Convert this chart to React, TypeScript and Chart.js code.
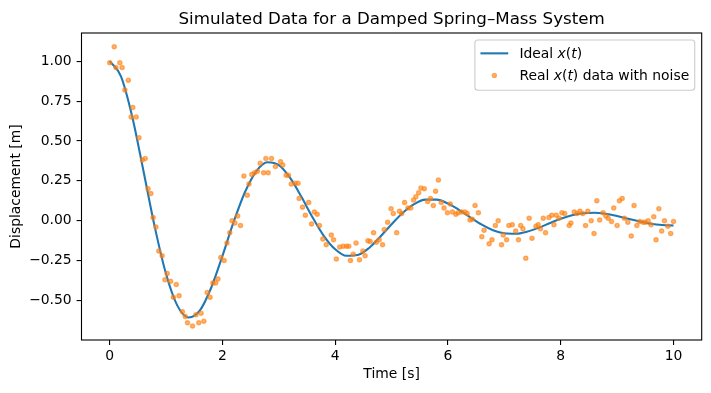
import React, { useEffect, useRef } from "react";
import { Chart, registerables } from "chart.js";

Chart.register(...registerables);

const TITLE = "Simulated Data for a Damped Spring\u2013Mass System";
const X_LABEL = "Time [s]";
const Y_LABEL = "Displacement [m]";

const xTickValues = [0, 2, 4, 6, 8, 10];
const xTickLabels = ["0", "2", "4", "6", "8", "10"];
const yTickValues = [-0.5, -0.25, 0, 0.25, 0.5, 0.75, 1.0];
const yTickLabels = ["\u22120.50", "\u22120.25", "0.00", "0.25", "0.50", "0.75", "1.00"];

const idealTime = [
  0, 0.2, 0.4, 0.6, 0.8, 1.0, 1.2, 1.4, 1.6, 1.8, 2.0, 2.2, 2.4, 2.6, 2.8, 3.0, 3.2, 3.4, 3.6, 3.8,
  4.0, 4.2, 4.4, 4.6, 4.8, 5.0, 5.2, 5.4, 5.6, 5.8, 6.0, 6.2, 6.4, 6.6, 6.8, 7.0, 7.2, 7.4, 7.6, 7.8,
  8.0, 8.2, 8.4, 8.6, 8.8, 9.0, 9.2, 9.4, 9.6, 9.8, 10.0,
];
const idealDisp = [
  1.0, 0.905, 0.652, 0.31, -0.04, -0.334, -0.532, -0.606, -0.562, -0.42, -0.22, -0.006, 0.18,
  0.31, 0.366, 0.348, 0.268, 0.15, 0.02, -0.096, -0.179, -0.22, -0.215, -0.171, -0.1, -0.022,
  0.05, 0.104, 0.132, 0.132, 0.108, 0.067, 0.02, -0.025, -0.06, -0.079, -0.082, -0.069, -0.045,
  -0.016, 0.012, 0.034, 0.047, 0.05, 0.043, 0.03, 0.012, -0.005, -0.019, -0.027, -0.03,
];

const noisyTime = [
  0.0, 0.08, 0.11, 0.18, 0.22, 0.27, 0.33, 0.38, 0.41, 0.47, 0.52, 0.58, 0.63, 0.68, 0.73, 0.77,
  0.82, 0.87, 0.93, 0.98, 1.02, 1.08, 1.13, 1.18, 1.23, 1.29, 1.34, 1.38, 1.47, 1.53, 1.58, 1.62,
  1.67, 1.73, 1.78, 1.83, 1.88, 1.92, 1.97, 2.03, 2.08, 2.13, 2.17, 2.22, 2.27, 2.32, 2.38, 2.44,
  2.47, 2.52, 2.57, 2.62, 2.67, 2.73, 2.77, 2.81, 2.87, 2.94, 3.03, 3.07, 3.13, 3.17, 3.22, 3.29,
  3.34, 3.36, 3.42, 3.47, 3.53, 3.58, 3.63, 3.68, 3.72, 3.78, 3.84, 3.93, 3.97, 4.02, 4.08, 4.14,
  4.2, 4.24, 4.27, 4.32, 4.37, 4.43, 4.49, 4.53, 4.58, 4.62, 4.68, 4.73, 4.78, 4.84, 4.87, 4.93,
  4.99, 5.03, 5.09, 5.14, 5.18, 5.23, 5.29, 5.34, 5.39, 5.43, 5.48, 5.52, 5.58, 5.64, 5.69, 5.74,
  5.78, 5.83, 5.88, 5.93, 5.99, 6.04, 6.08, 6.14, 6.18, 6.24, 6.3, 6.34, 6.39, 6.43, 6.48, 6.54,
  6.6, 6.64, 6.73, 6.78, 6.84, 6.89, 6.95, 6.98, 7.04, 7.08, 7.14, 7.2, 7.25, 7.29, 7.33, 7.38,
  7.44, 7.49, 7.56, 7.6, 7.64, 7.69, 7.73, 7.79, 7.84, 7.88, 7.92, 7.97, 8.02, 8.07, 8.15, 8.18,
  8.24, 8.29, 8.34, 8.39, 8.44, 8.48, 8.54, 8.59, 8.64, 8.69, 8.75, 8.8, 8.84, 8.9, 8.94, 9.0,
  9.04, 9.09, 9.13, 9.19, 9.25, 9.3, 9.35, 9.4, 9.46, 9.5, 9.55, 9.6, 9.65, 9.69, 9.74, 9.79,
  9.84, 9.9, 9.95, 10.0,
];
const noisyDisp = [
  0.99, 1.09, 0.96, 0.99, 0.96, 0.82, 0.88, 0.65, 0.71, 0.65, 0.52, 0.38, 0.39, 0.2, 0.17, 0.02,
  -0.04, -0.19, -0.22, -0.37, -0.33, -0.38, -0.48, -0.4, -0.47, -0.57, -0.6, -0.64, -0.66, -0.59, -0.64, -0.58,
  -0.63, -0.45, -0.48, -0.39, -0.39, -0.365, -0.23, -0.25, -0.14, -0.075, 0.0, -0.015, 0.03, -0.03, 0.28, 0.16,
  0.23, 0.29, 0.3, 0.31, 0.36, 0.3, 0.39, 0.3, 0.39, 0.34, 0.37, 0.35, 0.285, 0.285, 0.23, 0.235,
  0.235, 0.14, 0.085, 0.035, 0.115, -0.02, 0.055, 0.04, -0.03, -0.115, -0.15, -0.09, -0.12, -0.24, -0.165, -0.16,
  -0.16, -0.16, -0.25, -0.21, -0.14, -0.245, -0.19, -0.22, -0.125, -0.13, -0.075, -0.135, -0.12, -0.15, -0.055, -0.01,
  0.075, 0.045, -0.075, 0.06, 0.045, 0.115, 0.08, 0.08, 0.13, 0.15, 0.175, 0.205, 0.2, 0.12, 0.14, 0.095,
  0.185, 0.255, 0.115, 0.08, 0.05, 0.105, 0.055, 0.04, 0.05, 0.055, 0.055, 0.045, 0.005, 0.01, 0.095, 0.05,
  -0.1, -0.06, -0.145, -0.12, -0.03, 0.0, -0.15, -0.09, -0.12, -0.03, -0.025, -0.065, -0.12, -0.03, -0.05, -0.235,
  0.015, -0.11, -0.035, -0.025, -0.05, 0.015, -0.075, 0.02, 0.035, -0.025, 0.035, 0.015, 0.05, 0.045, -0.03, -0.015,
  0.055, 0.045, 0.06, 0.045, -0.03, 0.06, 0.0, -0.08, 0.125, 0.005, 0.05, 0.03, 0.015, -0.005, 0.08, -0.03,
  0.125, 0.14, 0.015, -0.01, -0.095, 0.095, -0.03, -0.005, -0.01, -0.01, 0.0, -0.025, 0.025, -0.12, 0.075, -0.065,
  0.0, -0.035, -0.08, -0.005,
];

const LINE_COLOR = "#1f77b4";
const DOT_COLOR = "rgba(255,127,14,0.6)";
const FONT = "'DejaVu Sans', 'Liberation Sans', sans-serif";
const FS = 13.9;

type Seg = [string, boolean];

function drawSegs(ctx: CanvasRenderingContext2D, segs: Seg[], x: number, y: number) {
  let cx = x;
  ctx.textAlign = "left";
  ctx.textBaseline = "alphabetic";
  for (const [txt, it] of segs) {
    ctx.font = `${it ? "italic " : ""}${FS}px ${FONT}`;
    ctx.fillText(txt, cx, y);
    cx += ctx.measureText(txt).width;
  }
  return cx - x;
}
function segsWidth(ctx: CanvasRenderingContext2D, segs: Seg[]) {
  let w = 0;
  for (const [txt, it] of segs) {
    ctx.font = `${it ? "italic " : ""}${FS}px ${FONT}`;
    w += ctx.measureText(txt).width;
  }
  return w;
}

const legendRow1: Seg[] = [["Ideal ", false], ["x", true], ["(", false], ["t", true], [")", false]];
const legendRow2: Seg[] = [
  ["Real ", false],
  ["x", true],
  ["(", false],
  ["t", true],
  [")", false],
  [" data with noise", false],
];

const decor = {
  id: "mplDecor",
  afterDraw(chart: any) {
    const { ctx, chartArea: a } = chart;
    ctx.save();
    ctx.strokeStyle = "#000";
    ctx.lineWidth = 1.1;
    ctx.strokeRect(a.left, a.top, a.right - a.left, a.bottom - a.top);
    ctx.fillStyle = "#000";
    ctx.font = `16.7px ${FONT}`;
    ctx.textAlign = "center";
    ctx.textBaseline = "alphabetic";
    ctx.fillText(TITLE, (a.left + a.right) / 2, a.top - 8.6);
    const pad = 0.4 * FS;
    const handleLen = 2 * FS;
    const textPad = 0.8 * FS;
    const tw = Math.max(segsWidth(ctx, legendRow1), segsWidth(ctx, legendRow2));
    const w = pad * 2 + handleLen + textPad + tw;
    const h = 50.3;
    const bx = a.right - 0.5 * FS - w;
    const by = a.top + 0.5 * FS;
    const r = 3;
    ctx.beginPath();
    ctx.moveTo(bx + r, by);
    ctx.lineTo(bx + w - r, by);
    ctx.arcTo(bx + w, by, bx + w, by + r, r);
    ctx.lineTo(bx + w, by + h - r);
    ctx.arcTo(bx + w, by + h, bx + w - r, by + h, r);
    ctx.lineTo(bx + r, by + h);
    ctx.arcTo(bx, by + h, bx, by + h - r, r);
    ctx.lineTo(bx, by + r);
    ctx.arcTo(bx, by, bx + r, by, r);
    ctx.closePath();
    ctx.fillStyle = "rgba(255,255,255,0.8)";
    ctx.fill();
    ctx.strokeStyle = "#cccccc";
    ctx.lineWidth = 1.1;
    ctx.stroke();
    const hx = bx + pad;
    const row1 = by + 13.4;
    const row2 = by + 35.6;
    ctx.strokeStyle = LINE_COLOR;
    ctx.lineWidth = 2.08;
    ctx.beginPath();
    ctx.moveTo(hx, row1);
    ctx.lineTo(hx + handleLen, row1);
    ctx.stroke();
    ctx.fillStyle = DOT_COLOR;
    ctx.strokeStyle = DOT_COLOR;
    ctx.lineWidth = 1.3;
    ctx.beginPath();
    ctx.arc(hx + handleLen / 2, row2, 2.1, 0, Math.PI * 2);
    ctx.fill();
    ctx.stroke();
    ctx.fillStyle = "#000";
    const tx = hx + handleLen + textPad;
    drawSegs(ctx, legendRow1, tx, row1 + 4.6);
    drawSegs(ctx, legendRow2, tx, row2 + 4.6);
    ctx.restore();
  },
};

export default function App() {
  const ref = useRef<HTMLCanvasElement | null>(null);
  useEffect(() => {
    document.body.style.margin = "0";
    const canvas = ref.current;
    if (!canvas) return;
    const tickFont = { family: FONT, size: FS };
    const chart = new Chart(canvas, {
      type: "scatter",
      data: {
        datasets: [
          {
            label: "Real x(t) data with noise",
            data: noisyTime.map((t, i) => ({ x: t, y: noisyDisp[i] })),
            backgroundColor: DOT_COLOR,
            borderColor: DOT_COLOR,
            borderWidth: 1.3,
            pointRadius: 2.1,
            showLine: false,
            order: 0,
          },
          {
            label: "Ideal x(t)",
            data: idealTime.map((t, i) => ({ x: t, y: idealDisp[i] })),
            borderColor: LINE_COLOR,
            backgroundColor: LINE_COLOR,
            borderWidth: 2.08,
            pointRadius: 0,
            showLine: true,
            cubicInterpolationMode: "monotone",
            order: 1,
          } as any,
        ],
      },
      options: {
        animation: false,
        responsive: false,
        devicePixelRatio: 1,
        layout: { padding: { top: 33, right: 9.3, left: 0, bottom: 0 } },
        plugins: {
          legend: { display: false },
          title: { display: false },
          tooltip: { enabled: false },
        },
        scales: {
          x: {
            type: "linear",
            min: -0.5,
            max: 10.5,
            afterBuildTicks: (s: any) => {
              s.ticks = xTickValues.map((v) => ({ value: v }));
            },
            afterFit: (s: any) => {
              s.height = 53;
            },
            ticks: {
              autoSkip: false,
              maxRotation: 0,
              padding: 3.5,
              color: "#000",
              font: tickFont,
              callback: (_v: any, i: number) => xTickLabels[i],
            },
            grid: {
              drawOnChartArea: false,
              drawTicks: true,
              tickLength: 4.9,
              color: "#000",
              lineWidth: 1.1,
            },
            border: { display: false },
            title: {
              display: true,
              text: X_LABEL,
              color: "#000",
              font: { family: FONT, size: FS },
              padding: { top: 0, bottom: 10.5 },
            },
          },
          y: {
            type: "linear",
            min: -0.7475,
            max: 1.1765,
            afterBuildTicks: (s: any) => {
              s.ticks = yTickValues.map((v) => ({ value: v }));
            },
            afterFit: (s: any) => {
              s.width = 81.5;
            },
            ticks: {
              autoSkip: false,
              padding: 4.9,
              color: "#000",
              font: tickFont,
              callback: (_v: any, i: number) => yTickLabels[i],
            },
            grid: {
              drawOnChartArea: false,
              drawTicks: true,
              tickLength: 4.9,
              color: "#000",
              lineWidth: 1.1,
            },
            border: { display: false },
            title: {
              display: true,
              text: Y_LABEL,
              color: "#000",
              font: { family: FONT, size: FS },
              padding: { top: 8.5, bottom: 0 },
            },
          },
        },
      },
      plugins: [decor],
    });
    return () => chart.destroy();
  }, []);
  return (
    <div style={{ position: "fixed", left: 0, top: 0, width: 711, height: 393, background: "#fff" }}>
      <canvas ref={ref} width={711} height={393} style={{ display: "block", width: 711, height: 393 }} />
    </div>
  );
}
